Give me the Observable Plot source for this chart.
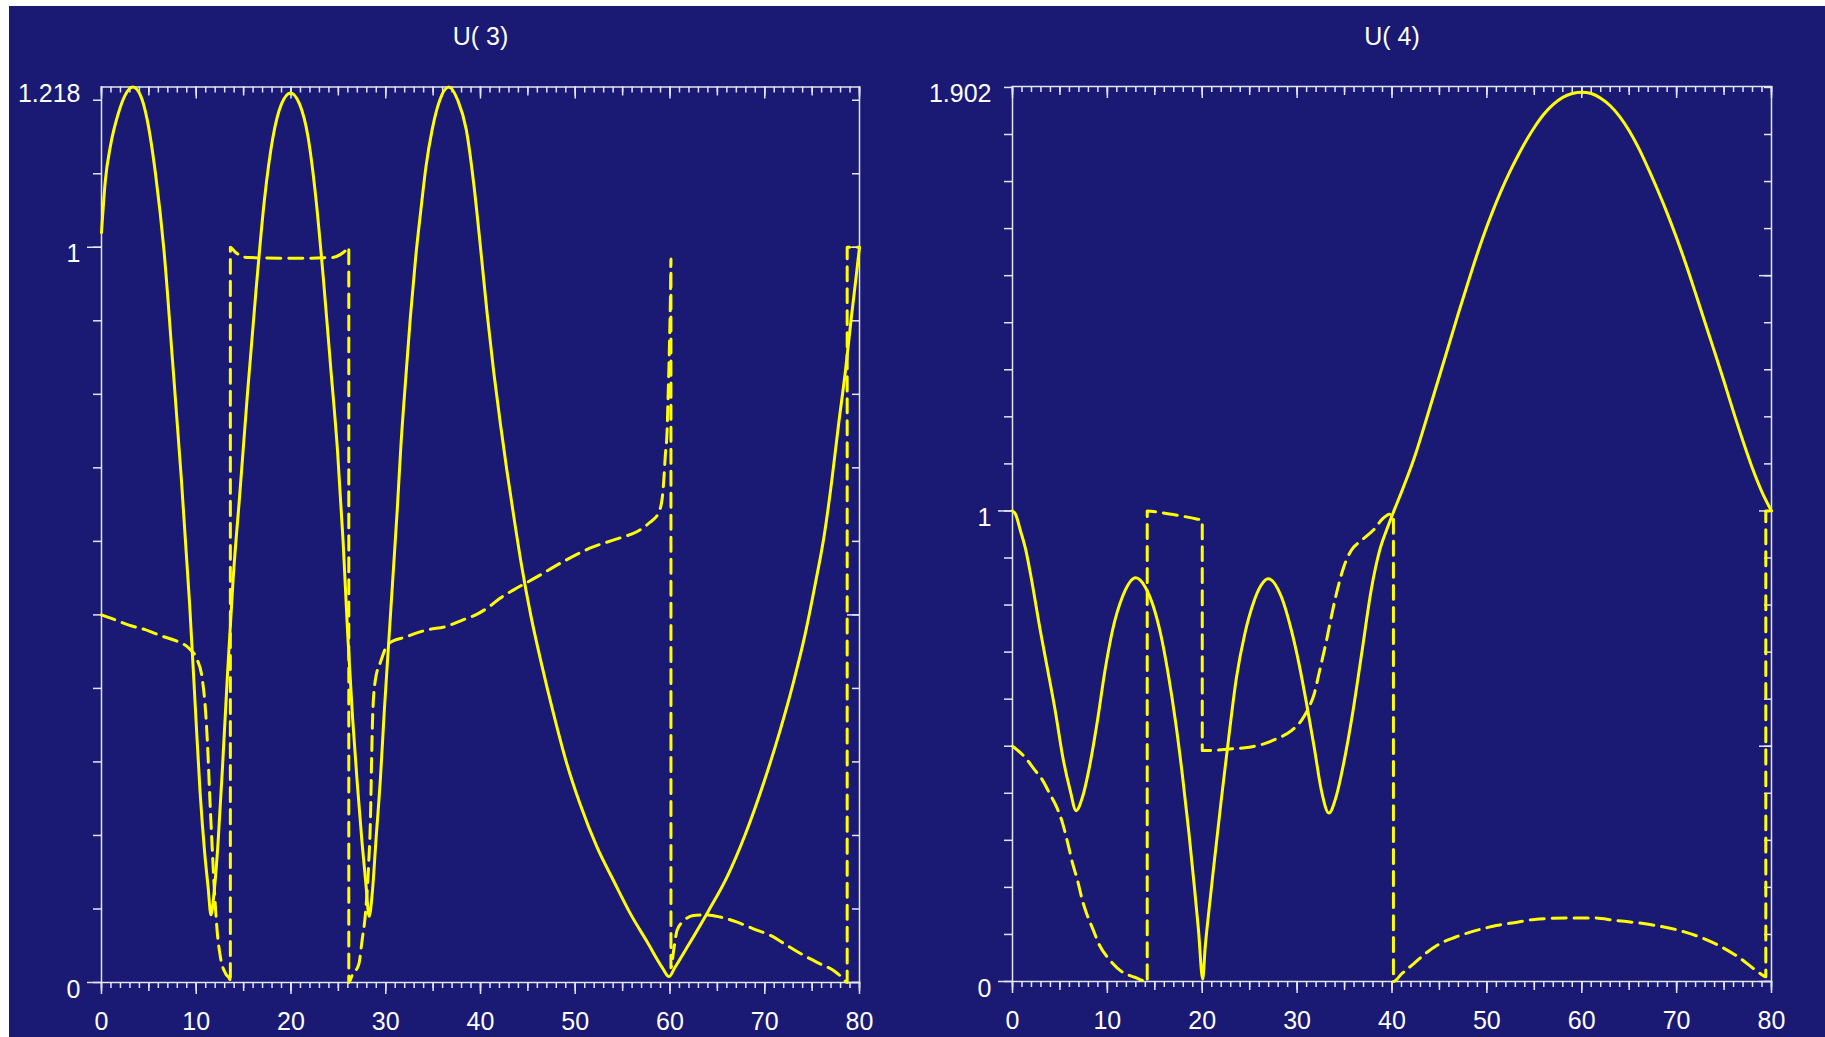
<!DOCTYPE html>
<html>
<head>
<meta charset="utf-8">
<script src="https://cdn.jsdelivr.net/npm/d3@7"></script>
<script src="https://cdn.jsdelivr.net/npm/@observablehq/plot@0.6"></script>
<style>
  html, body { margin: 0; padding: 0; background: #ffffff; }
  #page { position: relative; width: 1825px; height: 1037px; overflow: hidden; }
  #backdrop { position: absolute; left: 9px; top: 6px; right: 0; bottom: 0; background: #1a1a74; }
  .panel { position: absolute; top: 0; }
  .panel svg { overflow: visible; display: block; }
</style>
</head>
<body>
<div id="page">
  <div id="backdrop"></div>
  <div id="panel-u3" class="panel" style="left:0px"></div>
  <div id="panel-u4" class="panel" style="left:912px"></div>
</div>
<script>
// ---- data: [x, value] samples along each curve ----
const titles = ["U( 3)", "U( 4)"];
const xTickLabels = [0, 10, 20, 30, 40, 50, 60, 70, 80];
const u3YLabels = [0, 1, 1.218];
const u4YLabels = [0, 1, 1.902];

const u3Solid = [
  [0, 1.02], [0.4, 1.09], [0.95, 1.138], [1.8, 1.183], [2.5, 1.207], [3.3, 1.218], [4.1, 1.207],
  [4.8, 1.175], [5.7, 1.1], [6.6, 0.995], [7.5, 0.845], [8.4, 0.69], [9.3, 0.515], [9.9, 0.375],
  [10.4, 0.26], [10.9, 0.175], [11.25, 0.13], [11.55, 0.092], [11.9, 0.125], [12.3, 0.19],
  [12.8, 0.3], [13.3, 0.42], [13.9, 0.55], [14.6, 0.665], [15.4, 0.8], [16.3, 0.94], [17.2, 1.065],
  [18.1, 1.15], [19.0, 1.195], [19.95, 1.21], [20.9, 1.195], [21.8, 1.15], [22.6, 1.07],
  [23.4, 0.96], [24.2, 0.835], [24.9, 0.725], [25.5, 0.6], [26.0, 0.47], [26.5, 0.36], [27.0, 0.27],
  [27.5, 0.19], [27.9, 0.135], [28.25, 0.09], [28.6, 0.125], [28.95, 0.19], [29.45, 0.28],
  [29.85, 0.37], [30.3, 0.46], [30.75, 0.55], [31.2, 0.64], [31.6, 0.73], [32.1, 0.82],
  [32.6, 0.905], [33.15, 0.985], [33.7, 1.05], [34.25, 1.11], [34.9, 1.16], [35.7, 1.2],
  [36.65, 1.218], [37.6, 1.2], [38.5, 1.16], [39.3, 1.085], [40.0, 1.0], [40.7, 0.91],
  [41.4, 0.83], [42.1, 0.76], [42.8, 0.695], [43.5, 0.635], [44.3, 0.57], [45.3, 0.5],
  [46.5, 0.43], [47.7, 0.366], [49.1, 0.298], [50.5, 0.243], [52.3, 0.184], [54.1, 0.137],
  [55.8, 0.094], [57.6, 0.055], [59.2, 0.02], [59.9, 0.008], [60.5, 0.02], [62.0, 0.052],
  [64.0, 0.096], [66.0, 0.143], [67.9, 0.2], [69.9, 0.272], [71.6, 0.342], [73.0, 0.407],
  [74.2, 0.47], [75.3, 0.54], [76.3, 0.61], [77.1, 0.685], [77.8, 0.76], [78.5, 0.83],
  [79.1, 0.9], [79.6, 0.955], [80, 1.0]
];

const u3Dashed = [
  [0, 0.5], [1.5, 0.493], [2.9, 0.486], [4.6, 0.48], [6.4, 0.471], [8.0, 0.464], [9.2, 0.455],
  [10.1, 0.439], [10.6, 0.416], [11.0, 0.366], [11.2, 0.321], [11.43, 0.252], [11.68, 0.184],
  [11.96, 0.116], [12.2, 0.071], [12.56, 0.034], [13.1, 0.012], [13.55, 0.004], [13.6, 0.0],
  [13.6, 1.0], [14.0, 0.995], [14.6, 0.989], [15.5, 0.986], [20.0, 0.985], [24.3, 0.986],
  [25.2, 0.99], [25.8, 0.996], [26.1, 1.0], [26.1, 0.0], [26.46, 0.01], [27.16, 0.025],
  [27.5, 0.057], [27.86, 0.094], [28.2, 0.162], [28.4, 0.23], [28.5, 0.298], [28.63, 0.366],
  [28.9, 0.411], [29.45, 0.436], [30.3, 0.461], [32.1, 0.47], [34.5, 0.48], [36.3, 0.484],
  [38.1, 0.493], [39.5, 0.5], [40.9, 0.511], [42.1, 0.523], [43.5, 0.534], [46.0, 0.552],
  [48.8, 0.573], [51.6, 0.591], [54.8, 0.605], [56.5, 0.613], [57.8, 0.625], [58.8, 0.639],
  [59.2, 0.661], [59.35, 0.684], [59.5, 0.716], [59.7, 0.752], [59.8, 0.797], [59.9, 0.843],
  [59.98, 0.888], [60.05, 0.934], [60.1, 0.984], [60.1, 0.02], [60.4, 0.045], [60.75, 0.071],
  [61.46, 0.084], [62.5, 0.091], [63.9, 0.092], [65.3, 0.089], [67.1, 0.082], [68.8, 0.073],
  [70.6, 0.064], [72.4, 0.05], [74.1, 0.037], [75.9, 0.025], [77.3, 0.016], [78.3, 0.005],
  [78.7, 0.0], [78.7, 1.0], [80, 1.0]
];

const u4Solid = [
  [0, 1.0], [0.3, 0.994], [0.84, 0.958], [1.37, 0.92], [1.9, 0.866], [2.93, 0.746], [3.72, 0.661],
  [4.5, 0.576], [5.3, 0.477], [6.08, 0.406], [6.7, 0.363], [7.38, 0.392], [8.18, 0.463],
  [8.96, 0.555], [9.75, 0.661], [10.54, 0.746], [11.58, 0.817], [13.0, 0.858], [14.0, 0.838],
  [14.8, 0.8], [15.6, 0.74], [16.4, 0.655], [17.2, 0.55], [17.9, 0.44], [18.6, 0.315],
  [19.2, 0.195], [19.6, 0.11], [20.05, 0.005], [20.3, 0.07], [20.7, 0.15], [21.3, 0.26],
  [22.0, 0.385], [22.8, 0.52], [23.6, 0.645], [24.5, 0.74], [25.4, 0.805], [26.2, 0.842],
  [26.95, 0.856], [28.35, 0.817], [29.4, 0.746], [30.2, 0.675], [31.0, 0.59], [31.8, 0.498],
  [32.56, 0.406], [33.35, 0.358], [34.1, 0.392], [34.9, 0.463], [35.9, 0.576], [36.85, 0.703],
  [37.8, 0.831], [38.7, 0.916], [39.5, 0.963], [40.2, 1.0], [41.0, 1.04], [41.8, 1.082],
  [42.6, 1.128], [43.4, 1.18], [44.3, 1.24], [45.2, 1.3], [46.1, 1.36], [47.0, 1.42],
  [47.9, 1.478], [48.8, 1.535], [49.7, 1.588], [50.6, 1.636], [51.5, 1.68], [52.4, 1.72],
  [53.3, 1.756], [54.2, 1.789], [55.1, 1.818], [56.0, 1.843], [57.0, 1.864], [58.0, 1.879],
  [59.0, 1.887], [60.0, 1.89], [61.0, 1.887], [62.0, 1.877], [63.0, 1.861], [64.0, 1.838],
  [65.0, 1.808], [66.0, 1.771], [67.0, 1.728], [68.0, 1.682], [69.0, 1.633], [70.0, 1.58],
  [71.0, 1.523], [72.0, 1.462], [73.0, 1.4], [74.0, 1.338], [75.0, 1.275], [76.0, 1.21],
  [77.0, 1.148], [78.0, 1.09], [79.0, 1.04], [80, 1.0]
];

const u4Dashed = [
  [0, 0.5], [1.3, 0.477], [2.4, 0.448], [3.1, 0.43], [3.9, 0.4], [4.67, 0.37], [5.3, 0.335],
  [5.85, 0.292], [6.35, 0.25], [6.85, 0.215], [7.4, 0.17], [7.8, 0.145], [8.5, 0.11], [9.1, 0.08],
  [10.28, 0.045], [11.58, 0.02], [12.9, 0.009], [14.2, 0.0], [14.2, 1.0], [15.5, 0.997], [17.6, 0.99],
  [19.4, 0.983], [20.0, 0.98], [20.0, 0.491], [20.76, 0.491], [22.86, 0.494], [24.96, 0.498],
  [26.5, 0.505], [27.84, 0.516], [29.4, 0.533], [30.46, 0.555], [31.25, 0.583], [31.8, 0.611],
  [32.3, 0.654], [32.7, 0.689], [33.1, 0.725], [33.45, 0.76], [33.9, 0.803], [34.4, 0.845],
  [34.9, 0.88], [35.7, 0.916], [36.75, 0.937], [38.07, 0.96], [39.1, 0.985], [39.8, 0.993],
  [40.15, 0.99], [40.15, 0.0], [41.05, 0.017], [42.3, 0.038], [43.5, 0.059], [45.1, 0.081],
  [46.65, 0.094], [48.8, 0.108], [51.0, 0.119], [53.2, 0.126], [55.0, 0.132], [58.5, 0.135],
  [61.2, 0.135], [63.5, 0.13], [67.2, 0.121], [70.9, 0.105], [74.0, 0.081], [76.5, 0.052],
  [78.4, 0.023], [79.1, 0.013], [79.4, 0.01], [79.4, 1.0], [80, 1.0]
];

// ---- styling ----
const YELLOW = "#ffff00";
const AXIS = "#e4e4f4";
const TEXT = "#ffffff";
const FONT = "'Liberation Sans', Arial, Helvetica, sans-serif";
const HEIGHT = 1037;

function panel({title, solid, dashed, yMax, yLabels, width, marginLeft, marginRight, marginTop, marginBottom}) {
  const frameW = width - marginLeft - marginRight;
  const frameH = HEIGHT - marginTop - marginBottom;
  // tick positions: every 0.1 on y, every 1 / 5 / 10 on x
  const yMinor = d3.range(0, Math.floor(yMax * 10 + 1e-9) + 1).map(i => i / 10);
  const yHalf = yMinor.filter((v, i) => i % 5 === 0);
  const x1 = d3.range(0, 81, 1);
  const x5 = d3.range(0, 81, 5);
  const x10 = d3.range(0, 81, 10);
  const tick = {stroke: AXIS, strokeWidth: 1.5};
  const curve = {x: d => d[0], y: d => d[1], stroke: YELLOW, strokeWidth: 3, curve: "monotone-x"};
  return Plot.plot({
    width, height: HEIGHT, marginLeft, marginRight, marginTop, marginBottom,
    style: {background: "transparent", color: TEXT, fontFamily: FONT, overflow: "visible"},
    x: {domain: [0, 80]},
    y: {domain: [0, yMax]},
    marks: [
      Plot.frame({stroke: AXIS, strokeWidth: 1.5}),
      // bottom axis: ticks pointing outward
      Plot.axisX({anchor: "bottom", ticks: x1, tickSize: 6, fill: "none", label: null, ...tick}),
      Plot.axisX({anchor: "bottom", ticks: x5, tickSize: 9, fill: "none", label: null, ...tick}),
      Plot.axisX({anchor: "bottom", ticks: x10, tickSize: 12, fill: "none", label: null, ...tick}),
      Plot.axisX({anchor: "bottom", ticks: xTickLabels, tickSize: 0, tickPadding: 30,
        tickFormat: d => String(d), fontSize: 25, fill: TEXT, label: null}),
      // top axis: ticks pointing into the frame
      Plot.tickX(x1, {x: d => d, insetBottom: frameH - 6, ...tick}),
      Plot.tickX(x5, {x: d => d, insetBottom: frameH - 9, ...tick}),
      Plot.tickX(x10, {x: d => d, insetBottom: frameH - 12, ...tick}),
      // left axis: ticks pointing outward, labels slightly below their ticks
      Plot.axisY({anchor: "left", ticks: yMinor, tickSize: 8, fill: "none", label: null, ...tick}),
      Plot.axisY({anchor: "left", ticks: [0, 1], tickSize: 14, fill: "none", label: null, ...tick}),
      Plot.axisY({anchor: "left", ticks: yLabels, tickSize: 0, tickPadding: 21, dy: 7,
        tickFormat: d => String(d), fontSize: 25, fill: TEXT, label: null}),
      // right axis: ticks pointing into the frame
      Plot.tickY(yMinor, {y: d => d, insetLeft: frameW - 7, ...tick}),
      Plot.tickY(yHalf, {y: d => d, insetLeft: frameW - 12, ...tick}),
      // curves
      Plot.line(dashed, {...curve, strokeDasharray: "14,8"}),
      Plot.line(solid, curve),
      // panel title
      Plot.text([title], {text: d => d, frameAnchor: "top", dy: -59.5, fontSize: 25, fill: TEXT})
    ]
  });
}

document.getElementById("panel-u3").append(panel({
  title: titles[0], solid: u3Solid, dashed: u3Dashed, yMax: 1.218, yLabels: u3YLabels,
  width: 912, marginLeft: 101, marginRight: 53, marginTop: 86.5, marginBottom: 55
}));
document.getElementById("panel-u4").append(panel({
  title: titles[1], solid: u4Solid, dashed: u4Dashed, yMax: 1.902, yLabels: u4YLabels,
  width: 913, marginLeft: 100, marginRight: 54, marginTop: 86, marginBottom: 56
}));
</script>
</body>
</html>
